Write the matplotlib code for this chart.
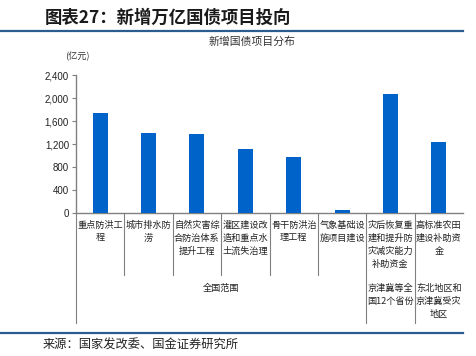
import matplotlib
matplotlib.use('Agg')
import matplotlib.pyplot as plt
from matplotlib.ticker import FuncFormatter
from matplotlib import transforms
from matplotlib.lines import Line2D

plt.rcParams['font.family'] = ['Noto Sans CJK SC', 'DejaVu Sans']

# data
categories = [
    '重点防洪工\n程',
    '城市排水防\n涝',
    '自然灾害综\n合防治体系\n提升工程',
    '灌区建设改\n造和重点水\n土流失治理',
    '骨干防洪治\n理工程',
    '气象基础设\n施项目建设',
    '灾后恢复重\n建和提升防\n灾减灾能力\n补助资金',
    '高标准农田\n建设补助资\n金',
]
values = [1740, 1390, 1370, 1110, 980, 50, 2070, 1240]
scope_labels = ['全国范围', '京津冀等全\n国12个省份', '东北地区和\n京津冀受灾\n地区']
scope_spans = [(0, 5), (6, 6), (7, 7)]
yticks = [0, 400, 800, 1200, 1600, 2000, 2400]

W, H = 476, 356
BAR = '#0063c9'
RULE = '#2a5d8f'
GREY = '#808080'


def fy(py):
    # pixel row (from top) -> figure fraction
    return 1 - py / H


fig = plt.figure(figsize=(W / 100, H / 100), dpi=100)
ax = fig.add_axes([76 / W, fy(212.8), (463 - 76) / W, (212.8 - 75.4) / H])

x = list(range(len(values)))
ax.bar(x, values, width=0.31, color=BAR, zorder=3)
ax.set_xlim(-0.5, len(values) - 0.5)
ax.set_ylim(0, 2400)
ax.set_yticks(yticks)
ax.yaxis.set_major_formatter(FuncFormatter(lambda v, p: f'{int(v):,}'))
ax.tick_params(axis='y', labelsize=7, length=3, width=0.8,
               direction='out', pad=2, colors=GREY, labelcolor='#222222')
for lab in ax.get_yticklabels():
    lab.set_family(['Liberation Sans', 'DejaVu Sans'])
ax.set_xticks([])
for s in ['top', 'right']:
    ax.spines[s].set_visible(False)
for s in ['left', 'bottom']:
    ax.spines[s].set_color(GREY)
    ax.spines[s].set_linewidth(1.0)

# table under the axis
tr = transforms.blended_transform_factory(ax.transData, fig.transFigure)
deep = {-0.5, 5.5, 6.5}
for b in [i - 0.5 for i in range(len(values))]:
    bottom = 323 if b in deep else 275
    fig.add_artist(Line2D([b, b], [fy(212.8), fy(bottom)], transform=tr,
                          color=GREY, lw=0.8))

for i, lab in enumerate(categories):
    ax.text(i, fy(220.5), lab, transform=tr, ha='center', va='top',
            fontsize=6.6, color='#222222', linespacing=1.55)

for lab, (a, b) in zip(scope_labels, scope_spans):
    ax.text((a + b) / 2, fy(284), lab, transform=tr, ha='center', va='top',
            fontsize=6.6, color='#222222', linespacing=1.55)

# header, rules, source
fig.text(45 / W, fy(18), '图表27：新增万亿国债项目投向', fontsize=12.5,
         fontweight='bold', color='#1a1a1a', va='center', ha='left')
fig.add_artist(Line2D([0, 463 / W], [fy(30.5), fy(30.5)], color=RULE, lw=1.6))
fig.text(252 / W, fy(42), '新增国债项目分布', fontsize=7.8, color='#333333',
         ha='center', va='center')
fig.text(65 / W, fy(56), '(亿元)', fontsize=6.6, color='#333333',
         ha='left', va='center')
fig.add_artist(Line2D([0, 463 / W], [fy(332.7), fy(332.7)], color=RULE, lw=1.6))
fig.text(43 / W, fy(345.5), '来源：国家发改委、国金证券研究所', fontsize=8.8,
         color='#222222', ha='left', va='center')

fig.savefig('out.png', dpi=100)
